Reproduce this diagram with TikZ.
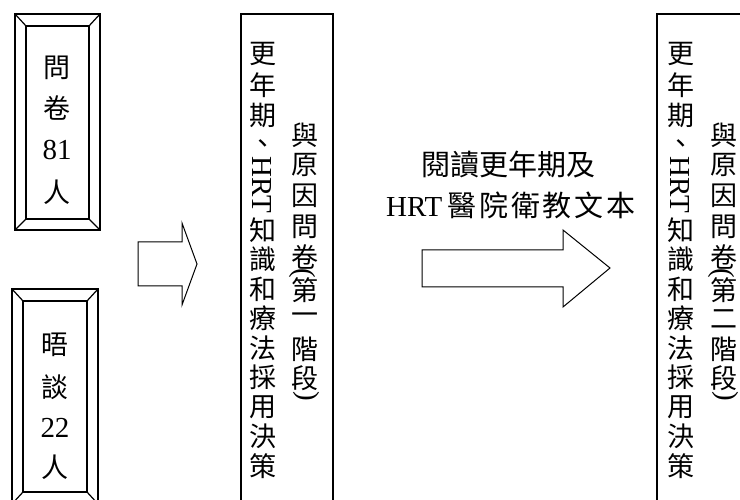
\documentclass[tikz,border=0pt]{standalone}
\usepackage{fontspec}
\setmainfont{Liberation Serif}
\newfontfamily\cjk{Noto Sans CJK TC}
\newfontfamily\cjkw[LetterSpace=10]{Noto Sans CJK TC}
\newcommand\cjs{\cjk\fontsize{27}{27}\selectfont}
\newcommand\cjm{\cjk\fontsize{29}{29}\selectfont}
\newcommand\cjmw{\cjkw\fontsize{29}{29}\selectfont}
\newcommand\lts{\fontsize{29}{29}\selectfont}
\tikzset{
  ch/.style={font=\cjs, inner sep=0pt},
  lt/.style={font=\lts, inner sep=0pt},
  outerline/.style={line width=1.8pt},
  innerline/.style={line width=1.2pt},
  boxline/.style={line width=1.3pt},
  blockarrow/.style={draw, line width=1pt, line join=miter}
}
\begin{document}
\begin{tikzpicture}[x=1pt,y=-1pt]
\useasboundingbox (0,0) rectangle (740,500);
\clip (0,0) rectangle (740,500);
% box 1 (beveled)
\draw[outerline] (15,14) rectangle (100,230);
\draw[innerline] (26,26) rectangle (89,219);
\draw[innerline] (15,14)--(26,26) (100,14)--(89,26) (15,230)--(26,219) (100,230)--(89,219);
\node[ch] (b1a) at (57,68) {問};
\node[ch] (b1b) at (57,108) {卷};
\node[lt] (b1c) at (57,150) {81};
\node[ch] (b1d) at (57,192) {人};
% box 2 (beveled)
\draw[outerline] (12,289) rectangle (98,504);
\draw[innerline] (23,301) rectangle (87,492);
\draw[innerline] (12,289)--(23,301) (98,289)--(87,301) (12,504)--(23,492) (98,504)--(87,492);
\node[ch] (b2a) at (55,345) {晤};
\node[ch] (b2b) at (55,387) {談};
\node[lt] (b2c) at (55,428) {22};
\node[ch] (b2d) at (55,467) {人};
% arrow 1
\draw[blockarrow] (138,242)--(182,242)--(182,223)--(197,264)--(182,305)--(182,286)--(138,286)--cycle;
% arrow 2
\draw[blockarrow] (422,250)--(563,250)--(563,230)--(610,268)--(563,307)--(563,287)--(422,287)--cycle;
% middle text
\node[inner sep=0pt, font=\cjm] (m1) at (508,165) {閱讀更年期及};
\node[inner sep=0pt, font=\lts] (m2) at (511,205) {HRT\,{\cjmw 醫院衛教文本}};
% boxes 3 and 4
\draw[boxline] (241,520)--(241,14)--(333,14)--(333,520);
\draw[boxline] (657,520)--(657,14)--(760,14);
\foreach \bx/\xa/\xb/\num in {A/263/305/一, B/681/724/二}{
  \foreach \c/\y [count=\i] in {更/54,年/85,期/115,知/230,識/259,和/289,療/318,法/348,採/377,用/407,決/436,策/466}{
    \node[ch] (\bx a\i) at (\xa,\y) {\c};
  }
  \node[ch] (\bx comma) at (\xa,143) {\rlap{、}\phantom{期}};
  \node[lt, rotate=-90] (\bx hrt) at (\xa-1,185) {HRT};
  \foreach \c/\y [count=\i] in {與/135,原/165,因/196,問/227,卷/257,第/290,\num/319,階/349,段/378}{
    \node[ch] (\bx b\i) at (\xb,\y) {\c};
  }
  \node[lt, rotate=-90] (\bx po) at (\xb-3,273) {(};
  \node[lt, rotate=-90] (\bx pc) at (\xb+1,396) {)};
}
\end{tikzpicture}
\end{document}
